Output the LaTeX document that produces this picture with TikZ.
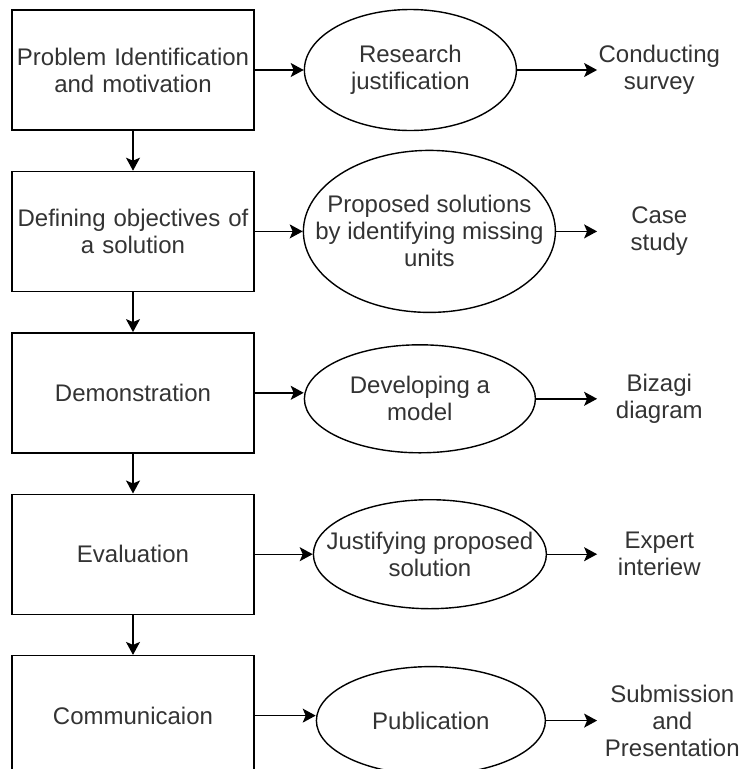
\documentclass[tikz,border=0pt]{standalone}
\usepackage{fontspec}
\setmainfont{Liberation Sans}
\usetikzlibrary{shapes, arrows}
\usetikzlibrary{arrows.meta,calc,shapes.geometric}
\usetikzlibrary{positioning}

\begin{document}
\begin{tikzpicture}[x=1pt,y=1pt,
    phase/.style={draw,line width=1.4pt,text width=236pt,align=center,minimum height=120pt,inner sep=3pt,font=\fontsize{24}{27}\selectfont,text=txtcolor},
    oval/.style={draw,ellipse,line width=1.4pt,inner sep=0pt},
    ovaltext/.style={align=center,inner sep=0pt,font=\fontsize{24}{27}\selectfont,text=txtcolor},
    result/.style={align=center,text width=124pt,inner sep=0pt,font=\fontsize{24}{27}\selectfont,text=txtcolor},
    arr/.style={-{Stealth[length=13pt,width=14pt,inset=3pt]},line width=1.4pt}]

		    \definecolor{txtcolor}{RGB}{51,51,51}
		    \useasboundingbox (0,0) rectangle (743,-769);
		    \clip (0,0) rectangle (743,-769);

% 		    left column
		    \node(phase1) [phase] at (133,-70) {Problem Identification\\and motivation};
		    \node(phase2) [phase,below=40pt of phase1] {Defining objectives of\\a solution};
		    \node(phase3) [phase,below=40pt of phase2] {Demonstration};
		    \node(phase4) [phase,below=40pt of phase3] {Evaluation};
		    \node(phase5) [phase,below=40pt of phase4] {Communicaion};

% 		    ellipses
		    \node(act1) [oval,minimum width=212pt,minimum height=121pt,right=49pt of phase1] {};
		    \node(act2) [oval,minimum width=252pt,minimum height=162pt,right=48pt of phase2] {};
		    \node(act3) [oval,minimum width=231pt,minimum height=108pt,right=49pt of phase3,yshift=-6pt] {};
		    \node(act4) [oval,minimum width=233pt,minimum height=109pt,right=58pt of phase4] {};
		    \node(act5) [oval,minimum width=229pt,minimum height=108pt,right=61pt of phase5,yshift=-5pt] {};
		    \node(act1t) [ovaltext] at (act1) {Research\\justification};
		    \node(act2t) [ovaltext] at (act2) {Proposed solutions\\by identifying missing\\units};
		    \node(act3t) [ovaltext] at (act3) {Developing a\\model};
		    \node(act4t) [ovaltext] at (act4) {Justifying proposed\\solution};
		    \node(act5t) [ovaltext] at (act5) {Publication};

% 		    outcomes
		    \node(res1) [result,right=80pt of act1] {Conducting\\survey};
		    \node(res2) [result,right=41pt of act2] {Case\\study};
		    \node(res3) [result,right=61pt of act3] {Bizagi\\diagram};
		    \node(res4) [result,right=50pt of act4] {Expert\\interiew};
		    \node(res5) [result,text width=150pt,right=51pt of act5] {Submission\\and\\Presentation};

		    \foreach \i/\j in {1/2,2/3,3/4,4/5}
		        \draw[arr] (phase\i) -- (phase\j);
		    \foreach \i in {1,...,5} {
		        \draw[arr] (phase\i.east) -- (phase\i.east -| act\i.west);
		        \draw[arr] (act\i.east) -- (res\i.west);
		    }

\end{tikzpicture}
\end{document}
